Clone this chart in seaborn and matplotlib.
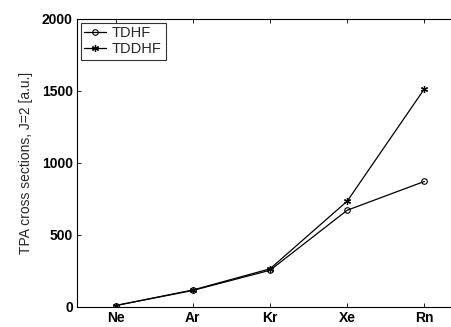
import matplotlib
matplotlib.use("Agg")
import matplotlib.pyplot as plt
import seaborn as sns
import pandas as pd

elements = ["Ne", "Ar", "Kr", "Xe", "Rn"]
tdhf = [10, 115, 255, 672, 872]
tddhf = [10, 118, 265, 735, 1515]

sns.set_theme(style="white")
plt.rcParams['font.family'] = ['Liberation Sans', 'DejaVu Sans']

pos = [1, 2, 3, 4, 5]
df = pd.DataFrame({
    "x": pos * 2,
    "y": tdhf + tddhf,
    "series": ["TDHF"] * 5 + ["TDDHF"] * 5,
})

fig = plt.figure(figsize=(4.52, 3.27), dpi=100)
ax = fig.add_axes([77 / 452, 20 / 327, (463 - 77) / 452, (307 - 19) / 327])

sns.lineplot(data=df[df.series == "TDHF"], x="x", y="y", ax=ax, color="black",
             linewidth=0.9, marker="o", markersize=4, markerfacecolor="none",
             markeredgecolor="black", markeredgewidth=0.8, label="TDHF")
sns.lineplot(data=df[df.series == "TDDHF"], x="x", y="y", ax=ax, color="black",
             linewidth=0.9, marker=(6, 2, 0), markersize=5,
             markeredgecolor="black", markeredgewidth=0.9, label="TDDHF")

ax.set_xlim(0.5, 5.5)
ax.set_ylim(0, 2000)
ax.set_xticks(pos)
ax.set_xticklabels(elements, fontweight="bold")
ax.set_yticks([0, 500, 1000, 1500, 2000])
ax.set_xlabel("")
ax.set_ylabel("TPA cross sections, J=2 [a.u.]", fontsize=10, labelpad=6)
ax.tick_params(axis="both", labelsize=10, direction="in", length=3, width=0.6,
               bottom=True, left=True, top=True, right=True, colors="black", pad=3)
for lbl in ax.get_yticklabels():
    lbl.set_fontweight("bold")
for s in ax.spines.values():
    s.set_color("black")
    s.set_linewidth(0.8)

leg = ax.legend(loc="upper left", fontsize=10.5, frameon=True, fancybox=False,
                edgecolor="black", borderpad=0.25, handlelength=1.5,
                labelspacing=0.15, handletextpad=0.4, borderaxespad=0.25)
leg.get_frame().set_linewidth(0.8)

fig.savefig("out.png", dpi=100)
